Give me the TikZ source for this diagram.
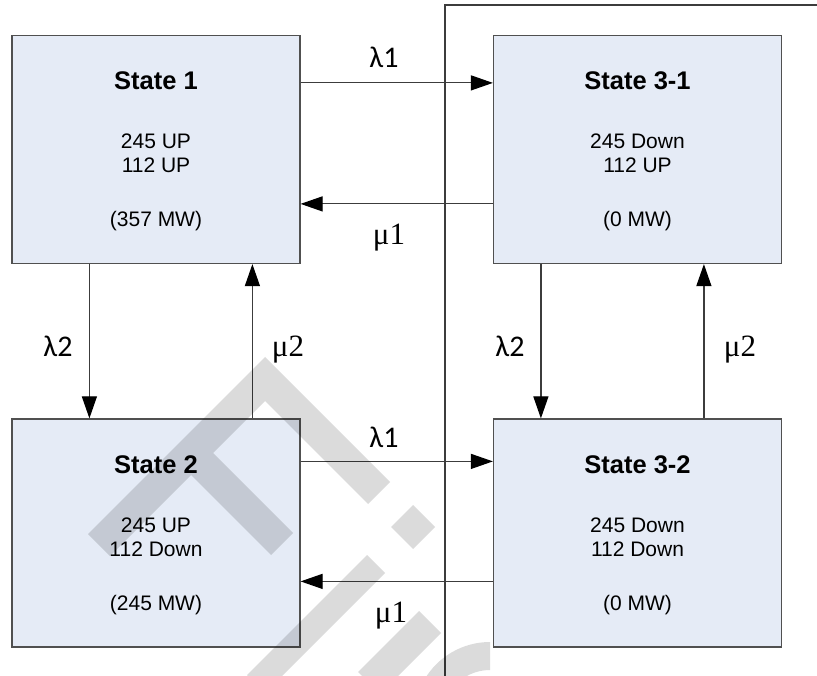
\documentclass[tikz,border=0pt]{standalone}
\usepackage{fontspec}
\setmainfont{Liberation Sans}
\newfontfamily\calfont{Carlito}
\newfontfamily\serfont{Liberation Serif}
\usetikzlibrary{arrows.meta,calc}
\definecolor{boxfill}{HTML}{E5EBF6}
\definecolor{boxline}{HTML}{505050}
\definecolor{conline}{HTML}{3C3C3C}
\tikzset{
  statebox/.style={rectangle, draw=boxline, fill=boxfill, line width=1.2pt,
    minimum width=288pt, minimum height=228pt, inner sep=0pt},
  stitle/.style={anchor=base, font=\fontsize{25.5}{30}\selectfont\bfseries, inner sep=0pt},
  sline/.style={anchor=base, font=\fontsize{21}{24}\selectfont, inner sep=0pt},
  conn/.style={draw=conline, line width=1.2pt, -{Triangle[length=22pt,width=15pt,color=black]}},
  plainline/.style={draw=conline, line width=1.2pt},
  lamlab/.style={anchor=base, font=\calfont\fontsize{30}{34}\selectfont, inner sep=0pt},
  mulab/.style={anchor=base, font=\serfont\fontsize{31}{34}\selectfont, inner sep=0pt},
  wmark/.style={fill=black, fill opacity=0.14, draw=none}
}
\begin{document}
\begin{tikzpicture}[x=1pt, y=-1pt]
\useasboundingbox (0,0) rectangle (817,676);
\fill[white] (0,0) rectangle (817,676);

% frame line
\coordinate (fb) at (445,676);
\coordinate (fc) at (445,5);
\coordinate (fr) at (817,5);
\draw[plainline] (fb) -- (fc) -- (fr);

% boxes
\node[statebox] (s1)  at (156,149.5) {};
\node[statebox] (s31) at (637.5,149.5) {};
\node[statebox] (s2)  at (156,533) {};
\node[statebox] (s32) at (637.5,533) {};

% box texts
\node[stitle] (s1t) at ($(s1.north)+(0,55)$) {State 1};
\node[sline] (s1a) at ($(s1.north)+(0,114)$) {245 UP};
\node[sline] (s1b) at ($(s1.north)+(0,138)$) {112 UP};
\node[sline] (s1c) at ($(s1.north)+(0,192)$) {(357 MW)};

\node[stitle] (s31t) at ($(s31.north)+(0,55)$) {State 3-1};
\node[sline] (s31a) at ($(s31.north)+(0,114)$) {245 Down};
\node[sline] (s31b) at ($(s31.north)+(0,138)$) {112 UP};
\node[sline] (s31c) at ($(s31.north)+(0,192)$) {(0 MW)};

\node[stitle] (s2t) at ($(s2.north)+(0,55)$) {State 2};
\node[sline] (s2a) at ($(s2.north)+(0,114)$) {245 UP};
\node[sline] (s2b) at ($(s2.north)+(0,138)$) {112 Down};
\node[sline] (s2c) at ($(s2.north)+(0,192)$) {(245 MW)};

\node[stitle] (s32t) at ($(s32.north)+(0,55)$) {State 3-2};
\node[sline] (s32a) at ($(s32.north)+(0,114)$) {245 Down};
\node[sline] (s32b) at ($(s32.north)+(0,138)$) {112 Down};
\node[sline] (s32c) at ($(s32.north)+(0,192)$) {(0 MW)};

% connectors
\draw[conn] ($(s1.north east)+(0,48)$) -- ($(s31.north west)+(0,48)$);
\draw[conn] ($(s31.north west)+(0,169)$) -- ($(s1.north east)+(0,169)$);
\draw[conn] ($(s1.south west)+(78,0)$) -- ($(s2.north west)+(78,0)$);
\draw[conn] ($(s2.north west)+(241,0)$) -- ($(s1.south west)+(241,0)$);

\draw[conn] ($(s2.north east)+(0,43)$) -- ($(s32.north west)+(0,43)$);
\draw[conn] ($(s32.north west)+(0,163)$) -- ($(s2.north east)+(0,163)$);
\draw[conn] ($(s31.south west)+(48,0)$) -- ($(s32.north west)+(48,0)$);
\draw[conn] ($(s32.north west)+(211,0)$) -- ($(s31.south west)+(211,0)$);

% labels
\node[lamlab] (l1a) at (384,68) {λ1};
\node[mulab]  (m1a) at (389,245) {μ1};
\node[lamlab] (l2a) at (58,356) {λ2};
\node[mulab]  (m2a) at (288,356) {μ2};
\node[lamlab] (l1b) at (384,447) {λ1};
\node[mulab]  (m1b) at (391,622) {μ1};
\node[lamlab] (l2b) at (510,356) {λ2};
\node[mulab]  (m2b) at (740,356) {μ2};

% watermark
\begin{scope}
\clip (0,0) rectangle (817,676);
\fill[wmark] (88,534) -- (265,357) -- (390,482) -- (368,504) -- (265,401)
  -- (213,453) -- (293,533) -- (271,555) -- (191,475) -- (110,556) -- cycle;
\fill[wmark] (413,505) -- (435,527) -- (413,549) -- (391,527) -- cycle;
\fill[wmark] (367,555) -- (385,573) -- (265,693) -- (247,675) -- cycle;
\fill[wmark] (419,611) -- (441,633) -- (380,694) -- (358,672) -- cycle;
\fill[wmark] (490,642) arc[start angle=270, end angle=160, radius=76]
  -- ($(490,718)+(160:48)$) arc[start angle=160, end angle=270, radius=48] -- cycle;
\end{scope}
\end{tikzpicture}
\end{document}
